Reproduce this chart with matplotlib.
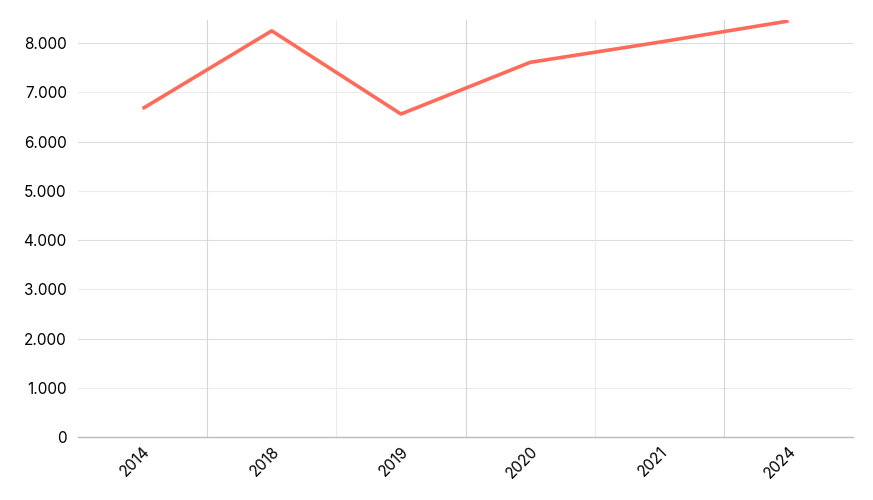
import numpy as np
import matplotlib.pyplot as plt
from matplotlib.ticker import FuncFormatter

plt.rcParams['font.family'] = ['Inter', 'DejaVu Sans']

# dados
anos = ['2014', '2018', '2019', '2020', '2021', '2024']
valores = [6670, 8250, 6560, 7610, 8020, 8450]

x = np.arange(len(anos))

fig = plt.figure(figsize=(8.73, 5), dpi=100)
ax = fig.add_axes([0.0893, 0.126, 0.888, 0.834])

# grade horizontal (alternando tons)
for i, v in enumerate(range(0, 9000, 1000)):
    cor = '#dddddd' if i % 2 == 0 else '#ececec'
    ax.axhline(v, color=cor, linewidth=0.8, zorder=0)

# grade vertical entre as categorias
for i, b in enumerate(np.arange(0.5, len(anos) - 1, 1.0)):
    cor = '#d6d6d6' if i % 2 == 0 else '#ececec'
    ax.axvline(b, color=cor, linewidth=0.8, zorder=0)

ax.plot(x, valores, color='#ff6b5b', linewidth=2.6, solid_capstyle='butt', zorder=3)

ax.set_xlim(-0.5, len(anos) - 0.5)
ax.set_ylim(0, 8470)
ax.set_xticks(x)
ax.set_xticklabels(anos, rotation=45, ha='right', rotation_mode='anchor')
ax.set_yticks(range(0, 9000, 1000))
ax.yaxis.set_major_formatter(FuncFormatter(lambda v, p: f'{int(v):,}'.replace(',', '.')))
ax.tick_params(axis='both', length=0, labelsize=11, colors='black')
ax.tick_params(axis='y', pad=8)
ax.tick_params(axis='x', pad=5)

for s in ['top', 'right', 'left']:
    ax.spines[s].set_visible(False)
ax.spines['bottom'].set_color('#bbbbbb')
ax.spines['bottom'].set_linewidth(1)

fig.savefig('out.png', dpi=100)
